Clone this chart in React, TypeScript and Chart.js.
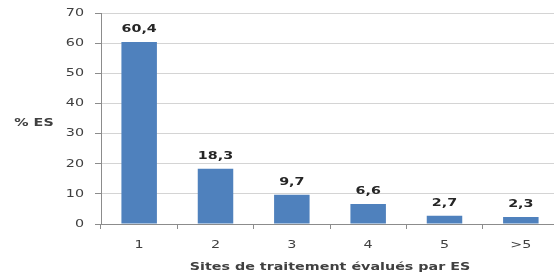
import React, { useEffect, useRef } from "react";
import { Chart, registerables } from "chart.js";

Chart.register(...registerables);

const categories = ["1", "2", "3", "4", "5", ">5"];
const values = [60.4, 18.3, 9.7, 6.6, 2.7, 2.3];
const valueLabels = ["60,4", "18,3", "9,7", "6,6", "2,7", "2,3"];
const yTicks = [0, 10, 20, 30, 40, 50, 60, 70];
const yTitle = "% ES";
const xTitle = "Sites de traitement évalués par ES";

const FONT = "'DejaVu Sans', Verdana, sans-serif";
const TEXT = "#404040";
const STRETCH = 1.3;

function stretchText(ctx: any, text: string, x: number, y: number, align: string) {
  ctx.save();
  ctx.translate(x, y);
  ctx.scale(STRETCH, 1);
  ctx.textAlign = align;
  ctx.textBaseline = "middle";
  ctx.fillText(text, 0, 0);
  ctx.restore();
}

const textPlugin = {
  id: "textPlugin",
  afterDatasetsDraw(chart: any) {
    const ctx = chart.ctx;
    const meta = chart.getDatasetMeta(0);
    const xs = chart.scales.x;
    const ys = chart.scales.y;
    const area = chart.chartArea;
    ctx.save();
    ctx.fillStyle = "#262626";
    ctx.font = `bold 11px ${FONT}`;
    meta.data.forEach((bar: any, i: number) => {
      stretchText(ctx, valueLabels[i], bar.x, bar.y - 13, "center");
    });
    ctx.fillStyle = TEXT;
    ctx.font = `11px ${FONT}`;
    yTicks.forEach((v) => {
      stretchText(ctx, String(v), 84, ys.getPixelForValue(v), "right");
    });
    categories.forEach((c, i) => {
      stretchText(ctx, c, xs.getPixelForValue(i), 245, "center");
    });
    ctx.font = `bold 11px ${FONT}`;
    stretchText(ctx, yTitle, 34, 123, "center");
    stretchText(ctx, xTitle, (area.left + area.right) / 2, 267, "center");
    ctx.restore();
  },
};

export default function App() {
  const ref = useRef<HTMLCanvasElement | null>(null);
  useEffect(() => {
    if (!ref.current) return;
    const chart = new Chart(ref.current, {
      type: "bar",
      data: {
        labels: categories,
        datasets: [
          {
            data: values,
            backgroundColor: "#4F81BD",
            borderWidth: 0,
            barPercentage: 0.465,
            categoryPercentage: 1,
          },
        ],
      },
      options: {
        animation: false,
        responsive: false,
        devicePixelRatio: 1,
        layout: { padding: { left: 0, top: 13, right: 1, bottom: 0 } },
        plugins: { legend: { display: false }, tooltip: { enabled: false } },
        scales: {
          x: {
            grid: {
              offset: true,
              drawOnChartArea: false,
              drawTicks: true,
              tickLength: 5,
              tickColor: "#8c8c8c",
            },
            border: { color: "#8c8c8c", width: 1 },
            ticks: { display: false },
            afterFit: (s: any) => {
              s.height = 54;
            },
          },
          y: {
            min: 0,
            max: 70,
            ticks: { stepSize: 10, display: false },
            grid: { color: "#d4d4d4", tickColor: "#8c8c8c", tickLength: 6 },
            border: { color: "#8c8c8c", width: 1 },
            afterFit: (s: any) => {
              s.width = 101;
            },
          },
        },
      },
      plugins: [textPlugin],
    });
    return () => chart.destroy();
  }, []);
  return (
    <div style={{ position: "fixed", left: 0, top: 0, width: 554, height: 278, overflow: "hidden", background: "#fff" }}>
      <canvas ref={ref} width={560} height={278} style={{ display: "block" }} />
    </div>
  );
}
